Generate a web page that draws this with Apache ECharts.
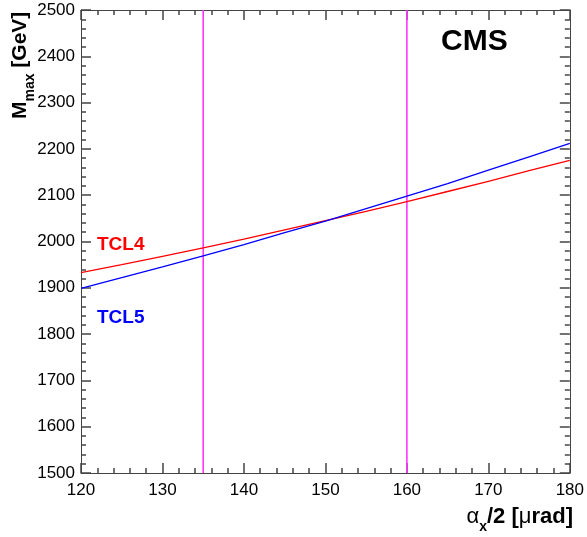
<!DOCTYPE html>
<html><head><meta charset="utf-8">
<script src="https://cdn.jsdelivr.net/npm/echarts@6/dist/echarts.min.js"></script>
<style>html,body{margin:0;padding:0;background:#fff}#c{width:587px;height:537px}</style>
</head><body><div id="c"></div>
<script>
const xValues = [120,125,130,135,140,145,150,155,160,165,170,175,180];
const tcl4 = [1933,1950,1968,1986,2005,2025,2045,2065,2086,2108,2130,2153,2175];
const tcl5 = [1899,1922,1945,1969,1993,2019,2044,2071,2098,2125,2154,2183,2212];
const vLines = [135,160];
const seriesNames = ['TCL4','TCL5'];

const chart = echarts.init(document.getElementById('c'), null, {renderer:'canvas'});
const F = 'Liberation Sans, Arial, Helvetica, sans-serif';
const axisCol = '#444';
function xa(pos, labels){
  return {type:'value', position:pos, min:120, max:180, interval:10,
    axisLine:{show:true, onZero:false, lineStyle:{color:axisCol, width:1}},
    axisTick:{show:true, inside:true, length:10, lineStyle:{color:axisCol, width:1.5}},
    minorTick:{show:true, splitNumber:5, length:5, lineStyle:{color:axisCol, width:1.5}},
    splitLine:{show:false},
    axisLabel:{show:labels, margin:9, color:'#000', fontSize:17, fontFamily:F, showMinLabel:true, showMaxLabel:true,
      formatter:v=>String(v)}};
}
function ya(pos, labels){
  return {type:'value', position:pos, min:1500, max:2500, interval:100,
    axisLine:{show:true, onZero:false, lineStyle:{color:axisCol, width:1}},
    axisTick:{show:true, inside:true, length:10, lineStyle:{color:axisCol, width:1.5}},
    minorTick:{show:true, splitNumber:5, length:5, lineStyle:{color:axisCol, width:1.5}},
    splitLine:{show:false},
    axisLabel:{show:labels, margin:6, color:'#000', fontSize:17, fontFamily:F, showMinLabel:true, showMaxLabel:true,
      formatter:v=>String(v)}};
}
const series = [
  {name:seriesNames[0], type:'line', xAxisIndex:0, yAxisIndex:0, showSymbol:false, symbol:'none',
   data:xValues.map((x,i)=>[x,tcl4[i]]), lineStyle:{color:'#ff0000', width:1.3}, z:3},
  {name:seriesNames[1], type:'line', xAxisIndex:0, yAxisIndex:0, showSymbol:false, symbol:'none',
   data:xValues.map((x,i)=>[x,tcl5[i]]), lineStyle:{color:'#0000ff', width:1.3}, z:3}
];
vLines.forEach(v=>{
  series.push({type:'line', xAxisIndex:0, yAxisIndex:0, symbol:'none', showSymbol:false,
    data:[[v,1500],[v,2500]], lineStyle:{color:'#ff33ff', width:1.6}, z:2});
});
chart.setOption({
  animation:false,
  backgroundColor:'#fff',
  grid:{left:81, right:14, top:10, bottom:64},
  xAxis:[xa('bottom',true), xa('top',false)],
  yAxis:[ya('left',true), ya('right',false)],
  series:series,
  graphic:[
    {type:'text', left:97, top:235, style:{text:seriesNames[0], fill:'#ff0000', font:'bold 19px '+F}},
    {type:'text', left:97, top:308, style:{text:seriesNames[1], fill:'#0000ff', font:'bold 19px '+F}},
    {type:'text', left:441, top:27, style:{text:'CMS', fill:'#000', font:'bold 30px '+F}},
    {type:'text', right:14, top:506, style:{
      text:'{a|α}{s|x}{b|/2 [}{a|μ}{b|rad]}',
      rich:{
        a:{fontFamily:F, fontSize:22, fill:'#000', verticalAlign:'bottom'},
        b:{fontFamily:F, fontSize:22, fontWeight:'bold', fill:'#000', verticalAlign:'bottom'},
        s:{fontFamily:F, fontSize:14, fontWeight:'bold', fill:'#000', verticalAlign:'bottom', padding:[0,0,-6,0]}
      }}},
    {type:'text', x:31, y:119, rotation:Math.PI/2, style:{
      text:'{b|M}{s|max}{b| [GeV]}',
      rich:{
        b:{fontFamily:F, fontSize:21, fontWeight:'bold', fill:'#000', verticalAlign:'bottom'},
        s:{fontFamily:F, fontSize:14, fontWeight:'bold', fill:'#000', verticalAlign:'bottom', padding:[0,0,-6,0]}
      }, textVerticalAlign:'bottom'}}
  ]
});
</script></body></html>
